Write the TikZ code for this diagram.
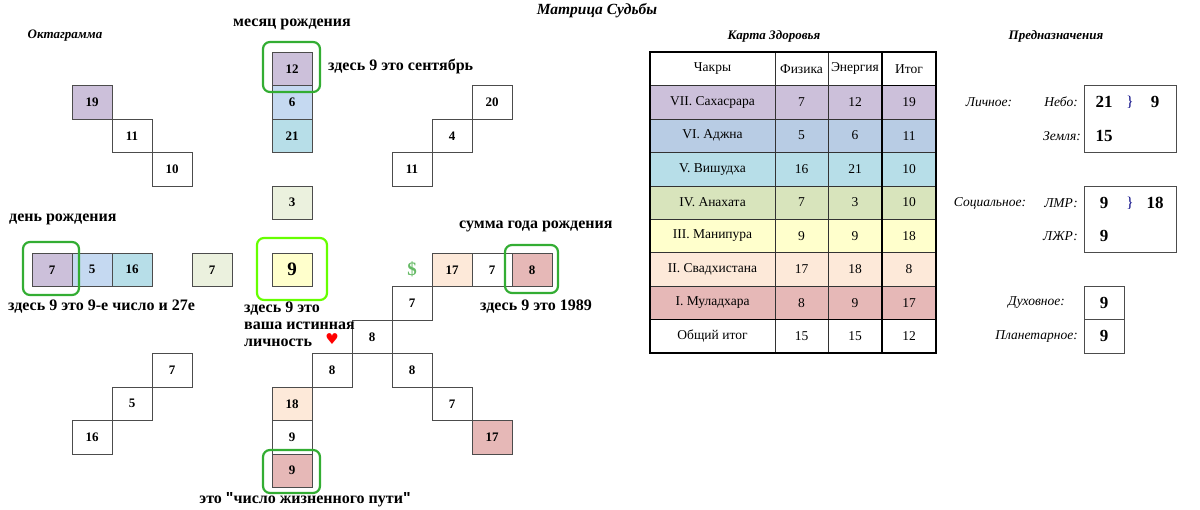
\documentclass[tikz,border=0pt]{standalone}
\usepackage{fontspec}
\setmainfont{Liberation Serif}[Ligatures=Common]
\newfontfamily\qfont{Liberation Sans}[Ligatures=Common]
\begin{document}
\begin{tikzpicture}[x=1pt,y=-1pt,
 cell/.style={draw=black!70,minimum width=40pt,minimum height=33.5pt,inner sep=0pt,font=\bfseries\fontsize{13}{13}\selectfont},
 frame/.style={draw=green!60!black!80,line width=2.2pt,rounded corners=7pt},
 lab/.style={font=\bfseries\fontsize{16}{16}\selectfont,inner sep=0pt},
 ttl/.style={font=\bfseries\itshape\fontsize{13}{13}\selectfont,inner sep=0pt},
 tc/.style={draw=black!80,minimum height=33.44pt,inner sep=0pt,font=\fontsize{13.5}{13.5}\selectfont},
 it/.style={font=\itshape\fontsize{13.5}{13.5}\selectfont,inner sep=0pt},
 big/.style={font=\bfseries\fontsize{17}{17}\selectfont,inner sep=0pt}]
\definecolor{cpur}{HTML}{CCC0DA}\definecolor{cblu}{HTML}{C5D9F1}\definecolor{ctea}{HTML}{B7DEE8}
\definecolor{cgrn}{HTML}{EBF1DE}\definecolor{cyel}{HTML}{FFFFCC}\definecolor{cpea}{HTML}{FDE9D9}
\definecolor{cpin}{HTML}{E6B8B7}\definecolor{tblu}{HTML}{B8CCE4}\definecolor{tgrn}{HTML}{D8E4BC}
\useasboundingbox (0,0) rectangle (1200,510);
\newcommand{\cellat}[5]{\node[cell,fill=#4] (#1) at ({92+40*#2},{68.75+33.5*#3}) {#5};}
\node[ttl,font=\bfseries\itshape\fontsize{15.5}{15.5}\selectfont] (title) at (597,11) {Матрица Судьбы};
\node[ttl] (okt) at (65,36) {Октаграмма};
\cellat{a12}{5}{0}{cpur}{12}
\cellat{a6}{5}{1}{cblu}{6}
\cellat{a21}{5}{2}{ctea}{21}
\cellat{a3}{5}{4}{cgrn}{3}
\cellat{a9}{5}{6}{cyel}{\fontsize{19}{19}\selectfont 9}
\cellat{b7}{3}{6}{cgrn}{7}
\cellat{d7}{-1}{6}{cpur}{7}
\cellat{d5}{0}{6}{cblu}{5}
\cellat{d16}{1}{6}{ctea}{16}
\cellat{u19}{0}{1}{cpur}{19}
\cellat{u11}{1}{2}{white}{11}
\cellat{u10}{2}{3}{white}{10}
\cellat{r20}{10}{1}{white}{20}
\cellat{r4}{9}{2}{white}{4}
\cellat{r11}{8}{3}{white}{11}
\cellat{y17}{9}{6}{cpea}{17}
\cellat{y7}{10}{6}{white}{7}
\cellat{y8}{11}{6}{cpin}{8}
\cellat{c7}{8}{7}{white}{7}
\cellat{c8a}{7}{8}{white}{8}
\cellat{c8b}{6}{9}{white}{8}
\cellat{c8c}{8}{9}{white}{8}
\cellat{c7b}{9}{10}{white}{7}
\cellat{c17}{10}{11}{cpin}{17}
\cellat{l7}{2}{9}{white}{7}
\cellat{l5}{1}{10}{white}{5}
\cellat{l16}{0}{11}{white}{16}
\cellat{m18}{5}{10}{cpea}{18}
\cellat{m9}{5}{11}{white}{9}
\cellat{m9b}{5}{12}{cpin}{9}
\node[font=\bfseries\fontsize{19}{19}\selectfont,text=green!55!black!60,inner sep=0pt] (dol) at (412,269) {\$};
\node[text=red,inner sep=0pt,font=\fontsize{15}{15}\selectfont] (heart) at (332,339) {\fontspec{DejaVu Sans}♥};
\draw[frame] (263,42) rectangle (320,92);
\draw[frame] (23,242) rectangle (79,295);
\draw[frame,draw=green!60!yellow] (257,238) rectangle (327,300);
\draw[frame] (505,245) rectangle (558,293);
\draw[frame] (263,450) rectangle (320,493);
\node[lab] (t1) at (292,24) {месяц рождения};
\node[lab,anchor=west] (t2) at (328,66) {здесь 9 это сентябрь};
\node[lab,anchor=west] (t3) at (9,219) {день рождения};
\node[lab,anchor=west] (t4) at (8,307) {здесь 9 это 9-е число и 27е};
\node[lab,anchor=north west,align=left,font=\bfseries\fontsize{16}{17}\selectfont] (t5) at (244,302) {здесь 9 это\\ваша истинная\\личность};
\node[lab,anchor=west] (t6) at (459,226) {сумма года рождения};
\node[lab,anchor=west] (t7) at (480,307) {здесь 9 это 1989};
\node[lab] (t8) at (305,500) {это {\qfont"}число жизненного пути{\qfont"}};
% table
\node[ttl] (kz) at (774,36) {Карта Здоровья};
\newcommand{\trow}[7]{%
 \node[tc,fill=#2,minimum width=125pt] (#1a) at (712.5,{52+33.44*#3+16.72}) {#4};
 \node[tc,fill=#2,minimum width=53pt] (#1b) at (801.5,{52+33.44*#3+16.72}) {#5};
 \node[tc,fill=#2,minimum width=54pt] (#1c) at (855,{52+33.44*#3+16.72}) {#6};
 \node[tc,fill=#2,minimum width=54pt] (#1d) at (909,{52+33.44*#3+16.72}) {#7};}
\trow{h}{white}{0}{Чакры}{Физика}{Энергия}{Итог}
\trow{s7}{cpur}{1}{VII. Сахасрара}{7}{12}{19}
\trow{s6}{tblu}{2}{VI. Аджна}{5}{6}{11}
\trow{s5}{ctea}{3}{V. Вишудха}{16}{21}{10}
\trow{s4}{tgrn}{4}{IV. Анахата}{7}{3}{10}
\trow{s3}{cyel}{5}{III. Манипура}{9}{9}{18}
\trow{s2}{cpea}{6}{II. Свадхистана}{17}{18}{8}
\trow{s1}{cpin}{7}{I. Муладхара}{8}{9}{17}
\trow{t}{white}{8}{Общий итог}{15}{15}{12}
\draw[line width=1.4pt] (650,52) rectangle (936,353);
\draw[line width=1.4pt] (882,52) -- (882,353);
\draw[line width=1.4pt] (650,319.5) -- (936,319.5);
\draw[line width=1.4pt] (882,85.4) -- (936,85.4);
% right panel
\node[ttl] (pr) at (1056,36) {Предназначения};
\node[draw=black!70,minimum width=92pt,minimum height=67pt,inner sep=0pt] (bx1) at (1130,118.5) {};
\node[draw=black!70,minimum width=92pt,minimum height=66pt,inner sep=0pt] (bx2) at (1130,219) {};
\node[draw=black!70,minimum width=40pt,minimum height=33.5pt,inner sep=0pt] (bx3) at (1104,302.75) {};
\node[draw=black!70,minimum width=40pt,minimum height=33.5pt,inner sep=0pt] (bx4) at (1104,336.25) {};
\node[it] (li) at (989,102) {Личное:};
\node[it,anchor=east] (nb) at (1078,102) {Небо:};
\node[it,anchor=east] (zm) at (1081,136) {Земля:};
\node[big] (n21) at (1104,102) {21};
\node[font=\fontsize{15}{15}\selectfont,text=blue!50!black] (br1) at (1130,102) {\}};
\node[big] (n9a) at (1155,102) {9};
\node[big] (n15) at (1104,136) {15};
\node[it] (so) at (990,203) {Социальное:};
\node[it,anchor=east] (lm) at (1078,203) {ЛМР:};
\node[it,anchor=east] (lz) at (1078,236) {ЛЖР:};
\node[big] (n9b) at (1104,203) {9};
\node[font=\fontsize{15}{15}\selectfont,text=blue!50!black] (br2) at (1130,203) {\}};
\node[big] (n18) at (1155,203) {18};
\node[big] (n9c) at (1104,236) {9};
\node[it,anchor=east] (du) at (1065,303) {Духовное:};
\node[it,anchor=east] (pl) at (1078,337) {Планетарное:};
\node[big] (n9d) at (bx3) {9};
\node[big] (n9e) at (bx4) {9};
\end{tikzpicture}
\end{document}
